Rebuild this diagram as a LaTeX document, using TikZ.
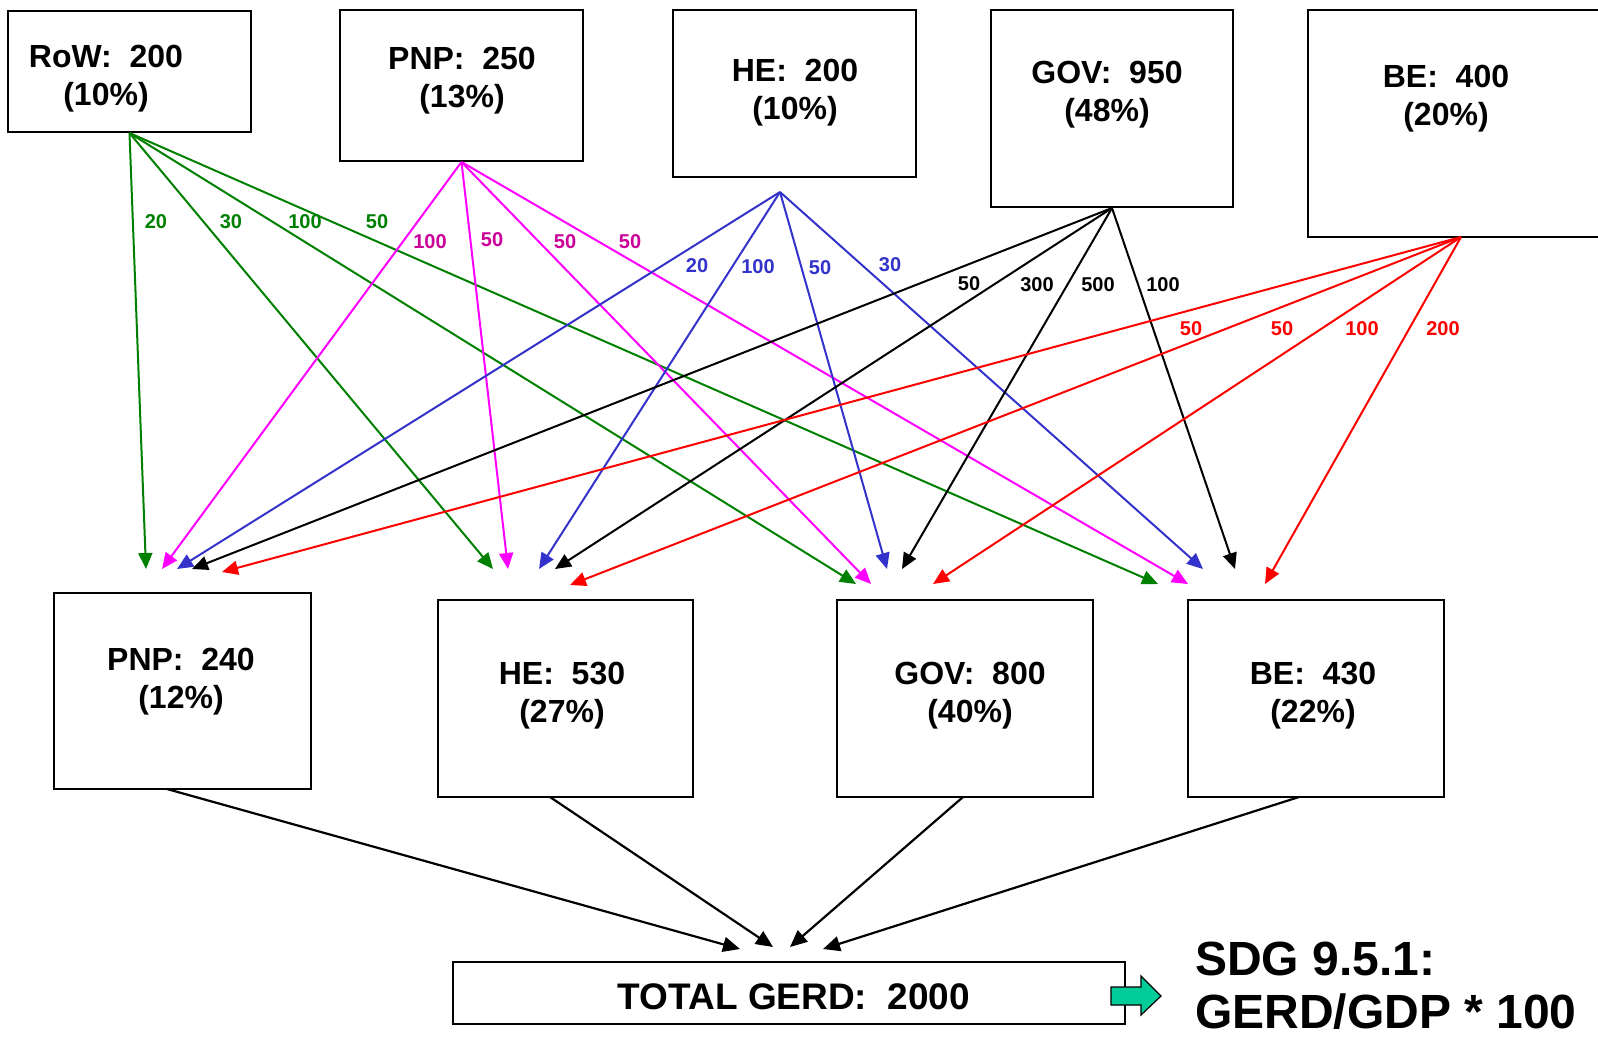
\documentclass[tikz,border=0pt]{standalone}
\usepackage{fontspec}
\setmainfont{Liberation Sans}
\usetikzlibrary{arrows.meta}
\definecolor{cgreen}{RGB}{0,128,0}
\definecolor{cmag}{RGB}{255,0,255}
\definecolor{cmaglbl}{RGB}{204,0,153}
\definecolor{cblue}{RGB}{51,51,204}
\definecolor{cred}{RGB}{255,0,0}
\definecolor{cteal}{RGB}{0,204,153}
\begin{document}
\begin{tikzpicture}[x=1pt,y=-1pt,
  box/.style={draw, line width=2pt, rectangle, inner sep=0pt},
  flow/.style={line width=2pt, -{Triangle[length=16pt,width=14pt]}},
  sumflow/.style={line width=2.2pt, -{Triangle[length=17pt,width=15pt]}},
  lbl/.style={font=\fontsize{20}{24}\selectfont\bfseries, inner sep=0pt},
  boxtxt/.style={font=\fontsize{32}{38}\selectfont\bfseries, align=center, inner sep=0pt, anchor=base}]
\useasboundingbox (0,0) rectangle (1598,1037);
\clip (0,0) rectangle (1598,1037);

% top boxes
\node[box, minimum width=243pt, minimum height=121pt] (row) at (129.5,71.5) {};
\node[box, minimum width=243pt, minimum height=151pt] (pnp) at (461.5,85.5) {};
\node[box, minimum width=243pt, minimum height=167pt] (he) at (794.5,93.5) {};
\node[box, minimum width=242pt, minimum height=197pt] (gov) at (1112,108.5) {};
\node[box, minimum width=342pt, minimum height=227pt] (be) at (1479,123.5) {};
% (base anchor of a two-line node = baseline of the last line)
\node[boxtxt] (rowt) at (106,105) {RoW:~~200\\(10\%)};
\node[boxtxt] (pnpt) at (462,107) {PNP:~~250\\(13\%)};
\node[boxtxt] (het) at (795,119) {HE:~~200\\(10\%)};
\node[boxtxt] (govt) at (1107,121) {GOV:~~950\\(48\%)};
\node[boxtxt] (bet) at (1446,125) {BE:~~400\\(20\%)};

% bottom boxes
\node[box, minimum width=257pt, minimum height=196pt] (bpnp) at (182.5,691) {};
\node[box, minimum width=255pt, minimum height=197pt] (bhe) at (565.5,698.5) {};
\node[box, minimum width=256pt, minimum height=197pt] (bgov) at (965,698.5) {};
\node[box, minimum width=256pt, minimum height=197pt] (bbe) at (1316,698.5) {};
\node[boxtxt] (bpnpt) at (181,708) {PNP:~~240\\(12\%)};
\node[boxtxt] (bhet) at (562,722) {HE:~~530\\(27\%)};
\node[boxtxt] (bgovt) at (970,722) {GOV:~~800\\(40\%)};
\node[boxtxt] (bbet) at (1313,722) {BE:~~430\\(22\%)};

% total
\node[box, minimum width=672pt, minimum height=62pt] (tot) at (789,993) {};
\node[font=\fontsize{37}{44}\selectfont\bfseries, inner sep=0pt, anchor=base] (tott) at (794,1009) {TOTAL GERD:~~2000};

% coordinates
\coordinate (heo) at (780,192);
\coordinate (beo) at (1461,237);
\coordinate (p-row) at (146,569);
\coordinate (p-pnp) at (162,569);
\coordinate (p-he) at (177,569);
\coordinate (p-gov) at (192,569);
\coordinate (p-be) at (222,572);
\coordinate (h-row) at (493,569);
\coordinate (h-pnp) at (508,569);
\coordinate (h-he) at (539,569);
\coordinate (h-gov) at (555,569);
\coordinate (h-be) at (570,585);
\coordinate (g-row) at (856,584);
\coordinate (g-pnp) at (871,584);
\coordinate (g-he) at (887,569);
\coordinate (g-gov) at (902,569);
\coordinate (g-be) at (933,584);
\coordinate (b-row) at (1158,584);
\coordinate (b-pnp) at (1188,584);
\coordinate (b-he) at (1203,569);
\coordinate (b-gov) at (1235,569);
\coordinate (b-be) at (1265,584);

% RoW flows
\draw[flow, cgreen] (row.south) -- (p-row);
\draw[flow, cgreen] (row.south) -- (h-row);
\draw[flow, cgreen] (row.south) -- (g-row);
\draw[flow, cgreen] (row.south) -- (b-row);
% PNP flows
\draw[flow, cmag] (pnp.south) -- (p-pnp);
\draw[flow, cmag] (pnp.south) -- (h-pnp);
\draw[flow, cmag] (pnp.south) -- (g-pnp);
\draw[flow, cmag] (pnp.south) -- (b-pnp);
% HE flows
\draw[flow, cblue] (heo) -- (p-he);
\draw[flow, cblue] (heo) -- (h-he);
\draw[flow, cblue] (heo) -- (g-he);
\draw[flow, cblue] (heo) -- (b-he);
% GOV flows
\draw[flow, black] (gov.south) -- (p-gov);
\draw[flow, black] (gov.south) -- (h-gov);
\draw[flow, black] (gov.south) -- (g-gov);
\draw[flow, black] (gov.south) -- (b-gov);
% BE flows
\draw[flow, cred] (beo) -- (p-be);
\draw[flow, cred] (beo) -- (h-be);
\draw[flow, cred] (beo) -- (g-be);
\draw[flow, cred] (beo) -- (b-be);

% labels
\node[lbl, text=cgreen] (lg1) at (156,222) {20};
\node[lbl, text=cgreen] (lg2) at (231,222) {30};
\node[lbl, text=cgreen] (lg3) at (305,222) {100};
\node[lbl, text=cgreen] (lg4) at (377,222) {50};
\node[lbl, text=cmaglbl] (lm1) at (430,242) {100};
\node[lbl, text=cmaglbl] (lm2) at (492,240) {50};
\node[lbl, text=cmaglbl] (lm3) at (565,242) {50};
\node[lbl, text=cmaglbl] (lm4) at (630,242) {50};
\node[lbl, text=cblue] (lb1) at (697,266) {20};
\node[lbl, text=cblue] (lb2) at (758,267) {100};
\node[lbl, text=cblue] (lb3) at (820,268) {50};
\node[lbl, text=cblue] (lb4) at (890,265) {30};
\node[lbl, text=black] (lk1) at (969,284) {50};
\node[lbl, text=black] (lk2) at (1037,285) {300};
\node[lbl, text=black] (lk3) at (1098,285) {500};
\node[lbl, text=black] (lk4) at (1163,285) {100};
\node[lbl, text=cred] (lr1) at (1191,329) {50};
\node[lbl, text=cred] (lr2) at (1282,329) {50};
\node[lbl, text=cred] (lr3) at (1362,329) {100};
\node[lbl, text=cred] (lr4) at (1443,329) {200};

% flows to total
\coordinate (s1) at (167,789);
\coordinate (s2) at (550,797);
\coordinate (s3) at (963,797);
\coordinate (s4) at (1299,797);
\coordinate (e1) at (740,949);
\coordinate (e2) at (773,947);
\coordinate (e3) at (790,947);
\coordinate (e4) at (823,949);
\draw[sumflow] (s1) -- (e1);
\draw[sumflow] (s2) -- (e2);
\draw[sumflow] (s3) -- (e3);
\draw[sumflow] (s4) -- (e4);

% block arrow and SDG text
\draw[line width=1.2pt, fill=cteal] (1111,987) -- (1141,987) -- (1141,976) -- (1161,996) -- (1141,1015) -- (1141,1005) -- (1111,1005) -- cycle;
\node[anchor=base west, font=\fontsize{48}{53}\selectfont\bfseries, align=left, inner sep=0pt] (sdg) at (1195,1028) {SDG 9.5.1:\\GERD/GDP * 100};
\end{tikzpicture}
\end{document}
